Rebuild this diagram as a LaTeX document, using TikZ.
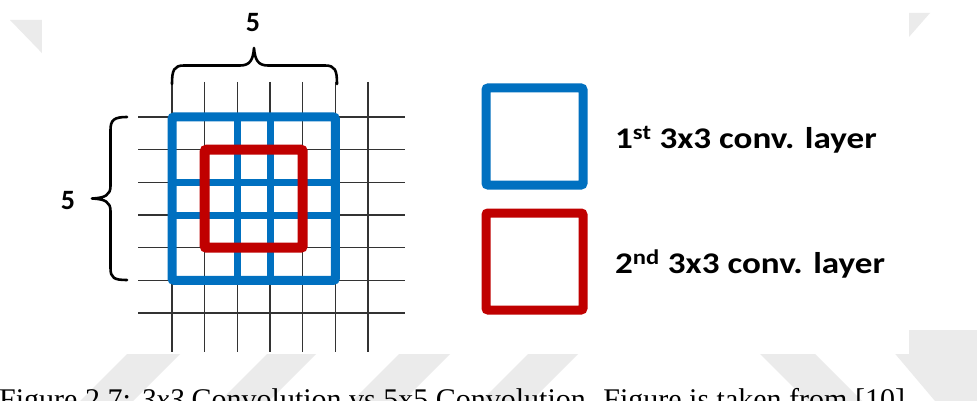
\documentclass[tikz,border=0pt]{standalone}
\usepackage{fontspec}
\setmainfont{Liberation Serif}
\newfontfamily\calib{Carlito}
\definecolor{convblue}{HTML}{0070C0}
\definecolor{convred}{HTML}{C00000}
\definecolor{wmgray}{HTML}{EBEBEB}
\begin{document}
\begin{tikzpicture}[x=1pt,y=-1pt,
  gridline/.style={line width=1.3pt, black!80},
  bluebox/.style={draw=convblue, line width=9pt, rounded corners=2pt},
  redbox/.style={draw=convred, line width=10pt, rounded corners=2pt},
  bluebar/.style={draw=convblue, line width=7pt},
  bracepath/.style={line width=2.6pt, line cap=round, line join=round},
  legtext/.style={anchor=base west, inner sep=0pt, font=\calib\bfseries\fontsize{30}{36}\selectfont},
  dimtext/.style={anchor=base, inner sep=0pt, font=\calib\bfseries\fontsize{28}{32}\selectfont},
  wm/.style={fill=wmgray}]
\useasboundingbox (0,0) rectangle (977,401);
\clip (0,0) rectangle (977,401);
\fill[white] (0,0) rectangle (977,401);
% watermark
\fill[wm] (10,20) -- (62,20) -- (120,80) -- (68,80) -- cycle;
\fill[wm] (880,13) -- (930,13) -- (880,70) -- (828,70) -- cycle;
\fill[wm] (127,354) -- (180,354) -- (133,401) -- (80,401) -- cycle;
\fill[wm] (267,354) -- (316,354) -- (269,401) -- (220,401) -- cycle;
\fill[wm] (399,354) -- (450,354) -- (403,401) -- (352,401) -- cycle;
\fill[wm] (528,354) -- (578,354) -- (531,401) -- (481,401) -- cycle;
\fill[wm] (760,354) -- (815,354) -- (862,401) -- (807,401) -- cycle;
\fill[wm] (875,330) -- (990,330) -- (1050,401) -- (935,401) -- cycle;
\fill[white] (42,0) rectangle (909,354);
% grid
\foreach \i in {0,...,6} {
  \draw[gridline] (172+32.67*\i,82) -- (172+32.67*\i,352);
  \draw[gridline] (138,117+32.67*\i) -- (405,117+32.67*\i);
}
% blue 5x5 window
\draw[bluebar] (237.3,117) -- (237.3,280.3);
\draw[bluebar] (270,117) -- (270,280.3);
\draw[bluebar] (172,182.3) -- (335.3,182.3);
\draw[bluebar] (172,215) -- (335.3,215);
\draw[bluebox] (172,117) rectangle (335.3,280.3);
% red 3x3 window
\draw[redbox] (204.7,149.7) rectangle (302.7,247.7);
% braces
\draw[bracepath] (172,84) .. controls (172,70) and (174,65.5) .. (184,65.5) -- (240,65.5)
  .. controls (250,65.5) and (253,60) .. (254,48)
  .. controls (255,60) and (258,65.5) .. (268,65.5) -- (325,65.5)
  .. controls (335,65.5) and (337,70) .. (337,84);
\draw[bracepath] (127,117) .. controls (114,117) and (110.5,120) .. (110.5,130) -- (110.5,186)
  .. controls (110.5,195) and (105,198) .. (92,198.5)
  .. controls (105,199) and (110.5,202) .. (110.5,211) -- (110.5,268)
  .. controls (110.5,278) and (114,280) .. (127,280);
\node[dimtext] (ntop) at (253,31.5) {5};
\node[dimtext] (nleft) at (68,209.5) {5};
% legend
\draw[bluebox] (486,88) rectangle (583,185);
\draw[redbox, line width=9pt] (486,213) rectangle (583,310);
\node[legtext] (l1) at (615,148.5) {\scalebox{1.17}[1]{1\textsuperscript{st} 3x3 conv. layer}};
\node[legtext] (l2) at (615,273.5) {\scalebox{1.17}[1]{2\textsuperscript{nd} 3x3 conv. layer}};
% caption
\node[anchor=base west, inner sep=0pt, font=\fontsize{30}{34}\selectfont] (cap) at (-1,409)
  {Figure 2.7: \textit{3x3} Convolution vs 5x5 Convolution. Figure is taken from [10].};
\end{tikzpicture}
\end{document}
